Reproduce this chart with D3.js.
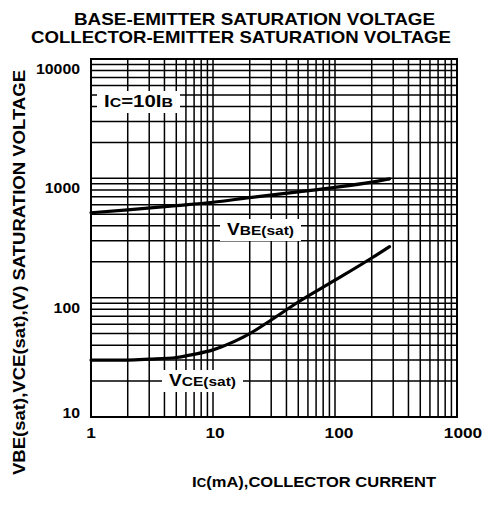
<!DOCTYPE html>
<html>
<head>
<meta charset="utf-8">
<script src="https://cdn.jsdelivr.net/npm/d3@7"></script>
<style>
    body { margin: 0; background: #fff; }
    svg { display: block; font-family: "Liberation Sans", Arial, sans-serif; font-weight: bold; }
    .grid { stroke: #000; stroke-width: 1.5; }
    .frame { fill: none; stroke: #000; stroke-width: 2; }
    .curve { fill: none; stroke: #000; stroke-width: 3.2; stroke-linecap: round; }
</style>
</head>
<body>
<div id="chart"></div>
<script>
// Ic in mA
const vbeCurrent = [1, 2, 5, 10, 20, 50, 100, 200, 280];
const vbeValues = [515, 545, 590, 630, 690, 770, 840, 930, 990];

const vceCurrent = [1, 2, 3, 5, 7, 10, 15, 20, 30, 50, 100, 200, 280];
const vceValues = [30, 30, 30.5, 31.5, 33.5, 36.5, 43, 50, 65, 92, 140, 215, 268];

const xTickValues = [1, 10, 100, 1000];
const yTickValues = [10, 100, 1000, 10000];

const titleLines = ["BASE-EMITTER SATURATION VOLTAGE", "COLLECTOR-EMITTER SATURATION VOLTAGE"];
const xTitle = [["I", 15.5], ["C", 12], ["(mA),COLLECTOR CURRENT", 15]];
const yTitle = "VBE(sat),VCE(sat),(V) SATURATION VOLTAGE";

const width = 486;
const height = 506;
const plot = { left: 91, right: 457, top: 59, bottom: 417 };

const svg = d3.select("#chart")
    .append("svg")
    .attr("width", width)
    .attr("height", height);

const x = d3.scaleLog().domain([1, 1000]).range([plot.left, plot.right]);
const y = d3.scaleLog().domain([10, 10000]).range([plot.bottom, plot.top]);

// grid
svg.append("g").selectAll("line")
    .data(x.ticks())
    .join("line")
    .attr("class", "grid")
    .attr("x1", d => x(d)).attr("x2", d => x(d))
    .attr("y1", plot.top).attr("y2", plot.bottom);

svg.append("g").selectAll("line")
    .data(y.ticks())
    .join("line")
    .attr("class", "grid")
    .attr("x1", plot.left).attr("x2", plot.right)
    .attr("y1", d => y(d)).attr("y2", d => y(d));

svg.append("rect")
    .attr("class", "frame")
    .attr("x", plot.left)
    .attr("y", plot.top)
    .attr("width", plot.right - plot.left)
    .attr("height", plot.bottom - plot.top);

// labels with white boxes that cut the grid
const addLabel = (px, py, len, parts) => {
    const g = svg.append("g");
    const box = g.append("rect").attr("fill", "#fff");
    const t = g.append("text")
        .attr("x", px).attr("y", py)
        .attr("textLength", len)
        .attr("lengthAdjust", "spacingAndGlyphs");
    parts.forEach(p => t.append("tspan").attr("font-size", p[1]).text(p[0]));
    box.attr("x", px - 7).attr("y", py - 16)
        .attr("width", len + 14).attr("height", 22);
};

addLabel(104, 107, 69, [["I", 16], ["C", 12.5], ["=10I", 16], ["B", 12.5]]);
addLabel(227, 235, 67, [["V", 16], ["BE(sat)", 13]]);
addLabel(169, 386, 67, [["V", 16], ["CE(sat)", 13]]);

const line = d3.line()
    .x(d => x(d[0]))
    .y(d => y(d[1]))
    .curve(d3.curveMonotoneX);

svg.append("path")
    .attr("class", "curve")
    .attr("d", line(d3.zip(vbeCurrent, vbeValues)));

svg.append("path")
    .attr("class", "curve")
    .attr("d", line(d3.zip(vceCurrent, vceValues)));

// tick labels
svg.append("g").selectAll("text")
    .data(yTickValues)
    .join("text")
    .attr("x", 80)
    .attr("y", d => Math.min(y(d) + 15, plot.bottom + 1))
    .attr("text-anchor", "end")
    .attr("font-size", 15)
    .attr("textLength", d => String(d).length * 8.8)
    .attr("lengthAdjust", "spacingAndGlyphs")
    .text(d => d);

svg.append("g").selectAll("text")
    .data(xTickValues)
    .join("text")
    .attr("x", d => x(d) + Math.log10(d) * 2)
    .attr("y", 438)
    .attr("text-anchor", "middle")
    .attr("font-size", 15)
    .attr("textLength", d => String(d).length * 9.6)
    .attr("lengthAdjust", "spacingAndGlyphs")
    .text(d => d);

// titles
svg.append("text")
    .attr("x", 74)
    .attr("y", 25)
    .attr("font-size", 17)
    .attr("textLength", 361)
    .attr("lengthAdjust", "spacingAndGlyphs")
    .text(titleLines[0]);

svg.append("text")
    .attr("x", 31)
    .attr("y", 43)
    .attr("font-size", 17)
    .attr("textLength", 420)
    .attr("lengthAdjust", "spacingAndGlyphs")
    .text(titleLines[1]);

const xt = svg.append("text")
    .attr("x", 192)
    .attr("y", 487)
    .attr("textLength", 244)
    .attr("lengthAdjust", "spacingAndGlyphs");
xTitle.forEach(p => xt.append("tspan").attr("font-size", p[1]).text(p[0]));

svg.append("text")
    .attr("transform", "translate(25,475) rotate(-90)")
    .attr("font-size", 16)
    .attr("textLength", 405)
    .attr("lengthAdjust", "spacingAndGlyphs")
    .text(yTitle);
</script>
</body>
</html>
